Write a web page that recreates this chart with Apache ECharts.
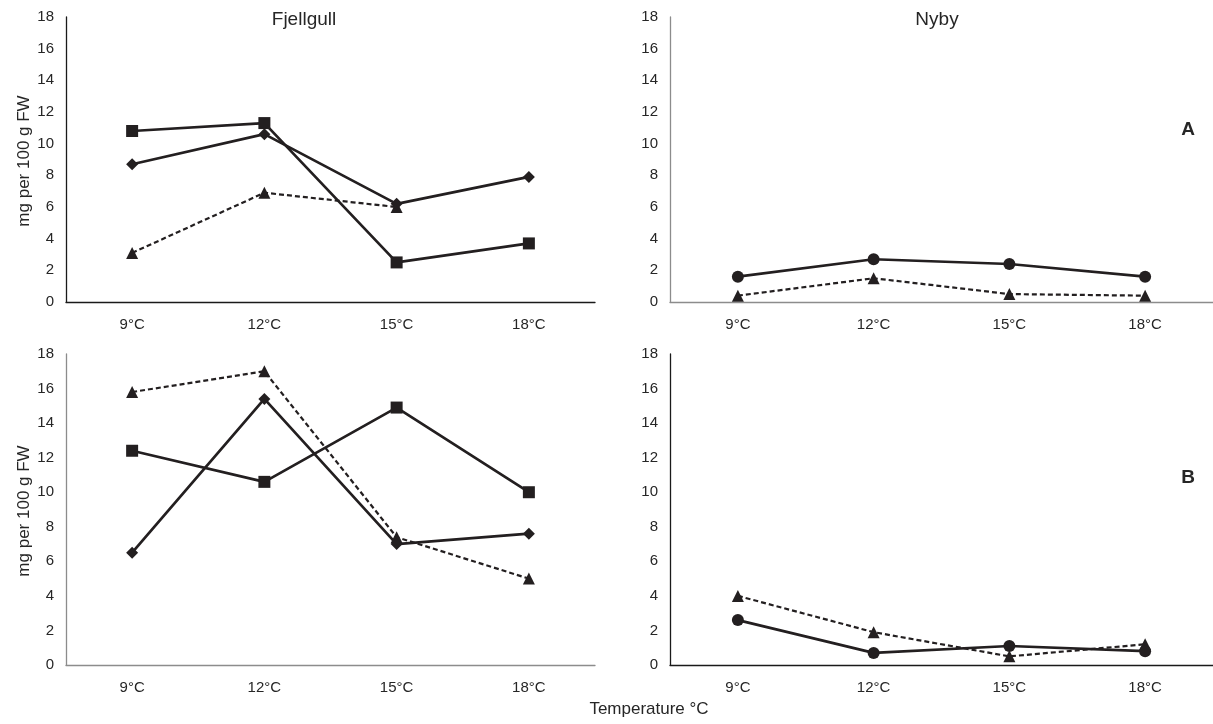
<!DOCTYPE html>
<html>
<head>
<meta charset="utf-8">
<script src="https://cdn.jsdelivr.net/npm/echarts@6/dist/echarts.min.js"></script>
<style>
html,body{margin:0;padding:0;background:#fff;}
#chart{width:1213px;height:724px;}
</style>
</head>
<body>
<div id="chart"></div>
<script>
// ---- data ----
var categories = ['9°C', '12°C', '15°C', '18°C'];
var yTickMin = 0, yTickMax = 18, yTickStep = 2;

// Panel A (top)
var fjA_square   = [10.8, 11.3, 2.5, 3.7];
var fjA_diamond  = [8.7, 10.6, 6.2, 7.9];
var fjA_triangle = [3.1, 6.9, 6.0, null];
var nyA_circle   = [1.6, 2.7, 2.4, 1.6];
var nyA_triangle = [0.4, 1.5, 0.5, 0.4];

// Panel B (bottom)
var fjB_triangle = [15.8, 17.0, 7.4, 5.0];
var fjB_square   = [12.4, 10.6, 14.9, 10.0];
var fjB_diamond  = [6.5, 15.4, 7.0, 7.6];
var nyB_triangle = [4.0, 1.9, 0.5, 1.2];
var nyB_circle   = [2.6, 0.7, 1.1, 0.8];

var panelTitles = ['Fjellgull', 'Nyby'];
var panelLetters = ['A', 'B'];
var yName = 'mg per 100 g FW';
var xName = 'Temperature °C';

// ---- styling ----
var INK = '#231f20';
var TXT = '#262626';
var FONT = '"Liberation Sans", Arial, Helvetica, sans-serif';

var grids = [
  {left: 66,  top: 17,  width: 529, height: 285},
  {left: 670, top: 17,  width: 554, height: 285},
  {left: 66,  top: 354, width: 529, height: 311},
  {left: 670, top: 354, width: 554, height: 311}
];
var axisColors = ['#1a1a1a', '#8c8c8c', '#8c8c8c', '#1a1a1a'];

function xAx(i) {
  return {
    type: 'category', gridIndex: i, data: categories, boundaryGap: true,
    axisLine: {show: true, lineStyle: {color: axisColors[i], width: 1.3}},
    axisTick: {show: false},
    axisLabel: {color: TXT, fontSize: 15, fontFamily: FONT, margin: 15},
    splitLine: {show: false}
  };
}
function yAx(i) {
  return {
    type: 'value', gridIndex: i, min: yTickMin, max: yTickMax, interval: yTickStep,
    axisLine: {show: true, lineStyle: {color: axisColors[i], width: 1.3}},
    axisTick: {show: false},
    axisLabel: {color: TXT, fontSize: 15, fontFamily: FONT, margin: 12},
    splitLine: {show: false}
  };
}
function ser(i, data, symbol, size, dashed) {
  return {
    type: 'line', xAxisIndex: i, yAxisIndex: i, data: data,
    symbol: symbol, symbolSize: size, showSymbol: true,
    connectNulls: false, animation: false,
    lineStyle: {color: INK, width: dashed ? 2.2 : 2.7, type: dashed ? [5, 3] : 'solid'},
    itemStyle: {color: INK, borderWidth: 0}
  };
}

var option = {
  animation: false,
  backgroundColor: '#fff',
  grid: grids,
  xAxis: [xAx(0), xAx(1), xAx(2), xAx(3)],
  yAxis: [yAx(0), yAx(1), yAx(2), yAx(3)],
  series: [
    ser(0, fjA_triangle, 'triangle', 12, true),
    ser(0, fjA_diamond, 'diamond', 12, false),
    ser(0, fjA_square, 'rect', 12, false),
    ser(1, nyA_triangle, 'triangle', 12, true),
    ser(1, nyA_circle, 'circle', 12, false),
    ser(2, fjB_triangle, 'triangle', 12, true),
    ser(2, fjB_diamond, 'diamond', 12, false),
    ser(2, fjB_square, 'rect', 12, false),
    ser(3, nyB_triangle, 'triangle', 12, true),
    ser(3, nyB_circle, 'circle', 12, false)
  ],
  graphic: [
    {type: 'text', x: 304, y: 20, style: {text: panelTitles[0], fill: TXT, font: '19px ' + FONT, textAlign: 'center', textVerticalAlign: 'middle'}},
    {type: 'text', x: 937, y: 20, style: {text: panelTitles[1], fill: TXT, font: '19px ' + FONT, textAlign: 'center', textVerticalAlign: 'middle'}},
    {type: 'text', x: 1188, y: 130, style: {text: panelLetters[0], fill: TXT, font: 'bold 19px ' + FONT, textAlign: 'center', textVerticalAlign: 'middle'}},
    {type: 'text', x: 1188, y: 478, style: {text: panelLetters[1], fill: TXT, font: 'bold 19px ' + FONT, textAlign: 'center', textVerticalAlign: 'middle'}},
    {type: 'text', x: 24, y: 161, rotation: Math.PI / 2, style: {text: yName, fill: TXT, font: '17px ' + FONT, textAlign: 'center', textVerticalAlign: 'middle'}},
    {type: 'text', x: 24, y: 511, rotation: Math.PI / 2, style: {text: yName, fill: TXT, font: '17px ' + FONT, textAlign: 'center', textVerticalAlign: 'middle'}},
    {type: 'text', x: 649, y: 709, style: {text: xName, fill: TXT, font: '17px ' + FONT, textAlign: 'center', textVerticalAlign: 'middle'}}
  ]
};

var chart = echarts.init(document.getElementById('chart'), null, {renderer: 'canvas'});
chart.setOption(option);
</script>
</body>
</html>
